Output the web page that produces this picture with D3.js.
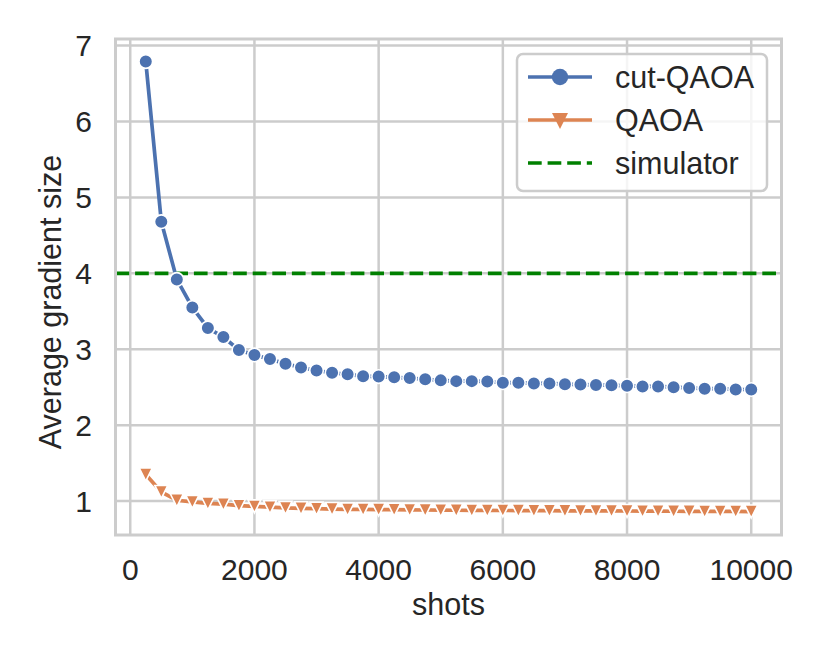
<!DOCTYPE html>
<html lang="en">
<head>
  <meta charset="UTF-8" />
  <title>Average gradient size vs shots</title>
  <script src="https://d3js.org/d3.v7.min.js"></script>
  <style>
    body { margin: 0; background: #fff; }
    svg { display: block; font-family: "Liberation Sans", Arial, sans-serif; }
  </style>
</head>
<body>
  <svg width="830" height="664"></svg>
  <script>
    // shots sampled every 250
    const shots = [250, 500, 750, 1000, 1250, 1500, 1750, 2000, 2250, 2500,
      2750, 3000, 3250, 3500, 3750, 4000, 4250, 4500, 4750, 5000,
      5250, 5500, 5750, 6000, 6250, 6500, 6750, 7000, 7250, 7500,
      7750, 8000, 8250, 8500, 8750, 9000, 9250, 9500, 9750, 10000];

    const cutQaoa = [6.79, 4.68, 3.92, 3.55, 3.28, 3.16, 2.99, 2.925, 2.87, 2.81,
      2.76, 2.72, 2.69, 2.67, 2.645, 2.64, 2.63, 2.62, 2.605, 2.59,
      2.58, 2.58, 2.575, 2.56, 2.56, 2.55, 2.55, 2.54, 2.535, 2.53,
      2.525, 2.52, 2.51, 2.51, 2.50, 2.49, 2.48, 2.48, 2.47, 2.47];

    const qaoa = [1.35, 1.12, 1.01, 0.99, 0.97, 0.96, 0.94, 0.93, 0.92, 0.91,
      0.905, 0.90, 0.895, 0.89, 0.89, 0.888, 0.886, 0.884, 0.882, 0.88,
      0.879, 0.878, 0.877, 0.876, 0.875, 0.874, 0.873, 0.872, 0.871, 0.87,
      0.87, 0.869, 0.868, 0.867, 0.866, 0.865, 0.864, 0.864, 0.863, 0.862];

    const simulator = 4;

    const xTicks = [0, 2000, 4000, 6000, 8000, 10000];
    const yTicks = [1, 2, 3, 4, 5, 6, 7];

    const seriesNames = ["cut-QAOA", "QAOA", "simulator"];
    const colors = { "cut-QAOA": "#4c72b0", "QAOA": "#dd8452", "simulator": "#008000" };

    const svg = d3.select("svg");
    const frame = { left: 115.5, right: 781.5, top: 39, bottom: 535 };
    const txt = "#262626", gridC = "#cccccc";

    const x = d3.scaleLinear().domain([-237.5, 10487.5]).range([frame.left, frame.right]);
    const y = d3.scaleLinear().domain([0.553, 7.087]).range([frame.bottom, frame.top]);

    // grid
    svg.append("g").selectAll("line").data(xTicks).join("line")
      .attr("x1", d => x(d)).attr("x2", d => x(d))
      .attr("y1", frame.top).attr("y2", frame.bottom)
      .attr("stroke", gridC).attr("stroke-width", 2.5);
    svg.append("g").selectAll("line").data(yTicks).join("line")
      .attr("y1", d => y(d)).attr("y2", d => y(d))
      .attr("x1", frame.left).attr("x2", frame.right)
      .attr("stroke", gridC).attr("stroke-width", 2.5);

    // tick labels
    svg.append("g").selectAll("text").data(xTicks).join("text")
      .attr("x", d => x(d)).attr("y", 580)
      .attr("text-anchor", "middle")
      .attr("font-size", 30).attr("fill", txt)
      .text(d => d);
    svg.append("g").selectAll("text").data(yTicks).join("text")
      .attr("x", 92).attr("y", d => y(d)).attr("dy", "0.36em")
      .attr("text-anchor", "end")
      .attr("font-size", 30).attr("fill", txt)
      .text(d => d);

    // axis labels
    svg.append("text")
      .attr("x", (frame.left + frame.right) / 2).attr("y", 615)
      .attr("text-anchor", "middle").attr("font-size", 30.5).attr("fill", txt)
      .text("shots");
    svg.append("text")
      .attr("transform", "translate(61,302) rotate(-90)")
      .attr("text-anchor", "middle").attr("font-size", 30.5).attr("fill", txt)
      .text("Average gradient size");

    // simulator reference
    svg.append("line")
      .attr("x1", frame.left).attr("x2", frame.right)
      .attr("y1", y(simulator)).attr("y2", y(simulator))
      .attr("stroke", colors.simulator).attr("stroke-width", 3.7)
      .attr("stroke-dasharray", "13.7,5.9");

    const line = d3.line().x(d => x(d[0])).y(d => y(d[1]));
    // downward triangle centred on its bounding box, like matplotlib "v"
    const triDown = {
      draw(ctx, size) {
        const h = Math.sqrt(size) / 2;
        ctx.moveTo(0, h);
        ctx.lineTo(-h, -h);
        ctx.lineTo(h, -h);
        ctx.closePath();
      }
    };
    const tri = d3.symbol().type(triDown).size(169);
    const triLegend = d3.symbol().type(triDown).size(256);

    // QAOA
    const qPts = shots.map((s, i) => [s, qaoa[i]]);
    svg.append("path").datum(qPts)
      .attr("d", line).attr("fill", "none")
      .attr("stroke", colors.QAOA).attr("stroke-width", 3.7);
    svg.append("g").selectAll("path").data(qPts).join("path")
      .attr("d", tri)
      .attr("transform", d => `translate(${x(d[0])},${y(d[1])})`)
      .attr("fill", colors.QAOA).attr("stroke", "#fff").attr("stroke-width", 1.6);

    // cut-QAOA
    const cPts = shots.map((s, i) => [s, cutQaoa[i]]);
    svg.append("path").datum(cPts)
      .attr("d", line).attr("fill", "none")
      .attr("stroke", colors["cut-QAOA"]).attr("stroke-width", 3.7);
    svg.append("g").selectAll("circle").data(cPts).join("circle")
      .attr("cx", d => x(d[0])).attr("cy", d => y(d[1])).attr("r", 6.8)
      .attr("fill", colors["cut-QAOA"]).attr("stroke", "#fff").attr("stroke-width", 1.6);

    // frame
    svg.append("rect")
      .attr("x", frame.left).attr("y", frame.top)
      .attr("width", frame.right - frame.left).attr("height", frame.bottom - frame.top)
      .attr("fill", "none").attr("stroke", gridC).attr("stroke-width", 3);

    // legend
    const lg = svg.append("g");
    lg.append("rect")
      .attr("x", 517).attr("y", 54).attr("width", 250).attr("height", 137).attr("rx", 6)
      .attr("fill", "#fff").attr("fill-opacity", 0.8)
      .attr("stroke", gridC).attr("stroke-width", 2.5);
    const rows = lg.selectAll("g").data(seriesNames).join("g")
      .attr("transform", (d, i) => `translate(0,${77 + i * 43})`);
    rows.append("line")
      .attr("x1", 528).attr("x2", 592)
      .attr("stroke", d => colors[d]).attr("stroke-width", 3.7)
      .attr("stroke-dasharray", d => d === "simulator" ? "13.7,5.9" : null);
    rows.filter(d => d === "cut-QAOA").append("circle")
      .attr("cx", 560).attr("r", 8.2)
      .attr("fill", colors["cut-QAOA"]);
    rows.filter(d => d === "QAOA").append("path")
      .attr("d", triLegend).attr("transform", "translate(560,1)")
      .attr("fill", colors.QAOA);
    rows.append("text")
      .attr("x", 615).attr("dy", "0.36em")
      .attr("font-size", 30.5).attr("fill", txt)
      .text(d => d);
  </script>
</body>
</html>
